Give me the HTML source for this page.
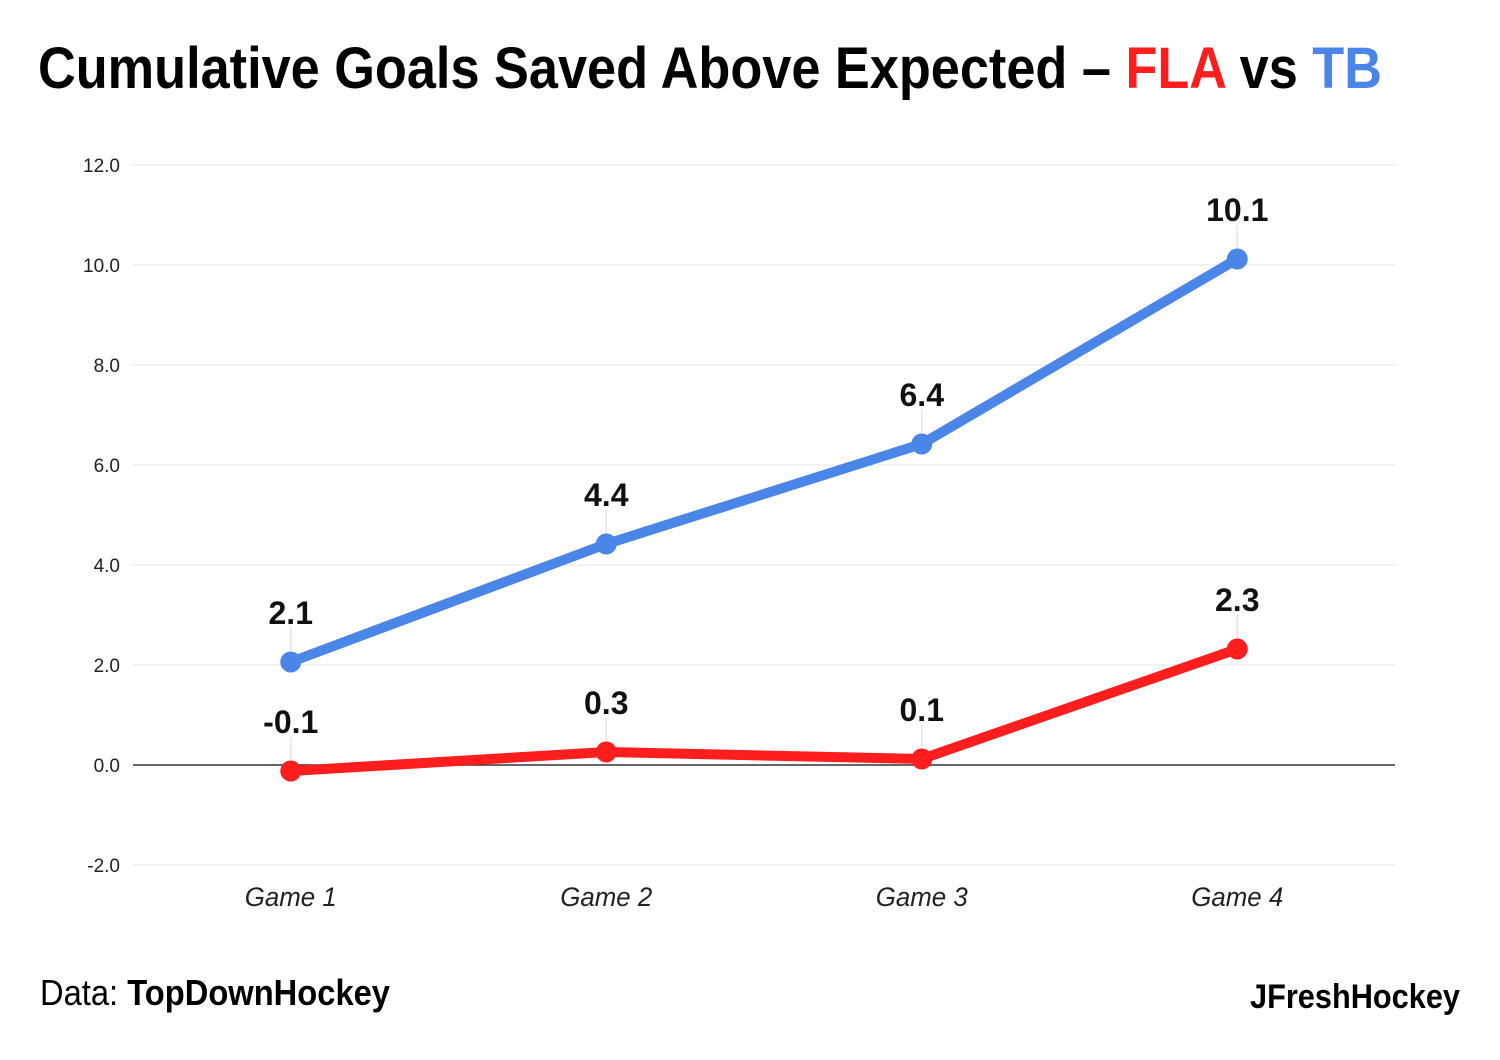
<!DOCTYPE html>
<html><head><meta charset="utf-8"><style>
html,body{margin:0;padding:0;background:#fff;width:1500px;height:1060px;overflow:hidden}
svg{display:block}
text{font-family:"Liberation Sans",sans-serif}
</style></head><body>
<svg id="chart" width="1500" height="1060" xmlns="http://www.w3.org/2000/svg">
<text x="38" y="88" font-size="58" font-weight="bold" textLength="1344" lengthAdjust="spacingAndGlyphs">Cumulative Goals Saved Above Expected – <tspan fill="#fe1e1e">FLA</tspan> vs <tspan fill="#4a86e8">TB</tspan></text>
<g id="grid"></g>
<g id="marks"></g>
<text x="40" y="1005" font-size="36" textLength="350" lengthAdjust="spacingAndGlyphs">Data: <tspan font-weight="bold">TopDownHockey</tspan></text>
<text x="1460" y="1008" font-size="34" font-weight="bold" text-anchor="end" textLength="210" lengthAdjust="spacingAndGlyphs">JFreshHockey</text>
</svg>
<script>
const categories=["Game 1","Game 2","Game 3","Game 4"];
const tbValues=[2.06,4.42,6.42,10.12];
const flaValues=[-0.12,0.26,0.12,2.32];
const tbLabels=["2.1","4.4","6.4","10.1"];
const flaLabels=["-0.1","0.3","0.1","2.3"];
const yTicks=[-2,0,2,4,6,8,10,12];
const yTickLabels=["-2.0","0.0","2.0","4.0","6.0","8.0","10.0","12.0"];

const NS="http://www.w3.org/2000/svg";
const x0=133,x1=1395;
const band=(x1-x0)/categories.length;
function xs(i){return x0+band*(i+0.5);}
function ys(v){return 765-v*50;}
function mk(tag,attrs,parent,txt){const e=document.createElementNS(NS,tag);for(const k in attrs)e.setAttribute(k,attrs[k]);if(txt!==undefined)e.textContent=txt;parent.appendChild(e);return e;}
const grid=document.getElementById('grid'),marks=document.getElementById('marks');
yTicks.forEach((t,i)=>{
  const l=mk('line',{x1:x0,x2:x1,y1:ys(t),y2:ys(t),stroke:t===0?'#333':'#ebebeb','stroke-width':t===0?1.5:1.2},grid);
  
  
  const tx=mk('text',{x:120,y:ys(t)+7,'font-size':19,'text-anchor':'end',fill:'#222'},grid,yTickLabels[i]);
  
  
});
categories.forEach((c,i)=>{
  const tx=mk('text',{x:xs(i),y:906,'font-size':27,'font-style':'italic','text-anchor':'middle',fill:'#222',textLength:92,lengthAdjust:'spacingAndGlyphs'},grid,c);
  
  
});
function series(vals,labels,color,name){
  vals.forEach((v,i)=>{
    const ll=mk('line',{x1:xs(i),x2:xs(i),y1:ys(v)-34,y2:ys(v),stroke:'#ddd','stroke-width':1.2},marks);
    
    
  });
  const p=mk('polyline',{points:vals.map((v,i)=>xs(i)+','+ys(v)).join(' '),fill:'none',stroke:color,'stroke-width':10,'stroke-linejoin':'round','stroke-linecap':'round'},marks);
  
  
  vals.forEach((v,i)=>{
    const c=mk('circle',{cx:xs(i),cy:ys(v),r:10.5,fill:color},marks);
    
    
    const t=mk('text',{x:xs(i),y:ys(v)-38,'font-size':32,'font-weight':'bold','text-anchor':'middle',fill:'#111'},marks,labels[i]);
    
    
  });
}
series(tbValues,tbLabels,'#4a86e8','tb');
series(flaValues,flaLabels,'#fe1e1e','fla');
</script>
</body></html>
